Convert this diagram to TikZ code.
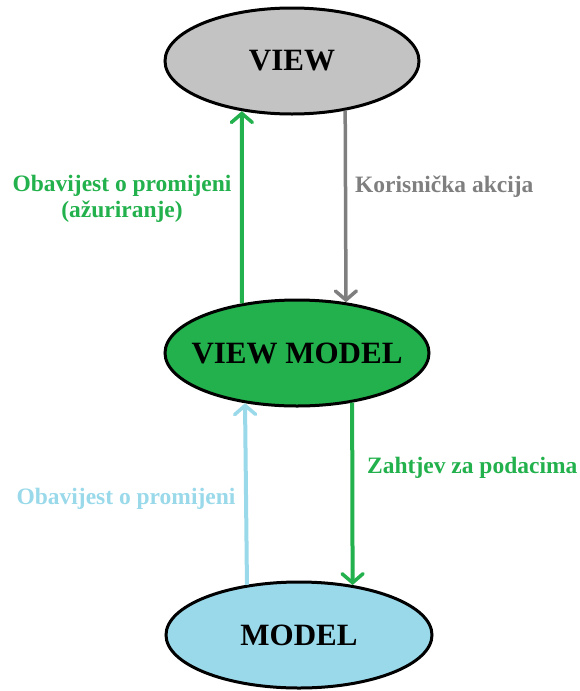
\documentclass[tikz,border=0pt]{standalone}
\usepackage{fontspec}
\setmainfont{Liberation Serif}
\usetikzlibrary{arrows.meta,shapes.geometric}
\definecolor{pgreen}{HTML}{22B14C}
\definecolor{pgray}{HTML}{7F7F7F}
\definecolor{pblue}{HTML}{99D9EA}
\definecolor{pview}{HTML}{C3C3C3}
\tikzset{
  blob/.style={ellipse, draw=black, line width=3pt, inner sep=0pt, minimum height=106pt, font=\fontsize{31}{36}\selectfont\bfseries},
  conn/.style={line width=4pt, -{Straight Barb[length=9pt,width=21pt,line width=3.5pt,line cap=round]}},
  lbl/.style={font=\fontsize{23.5}{26}\selectfont\bfseries, inner sep=0pt}
}
\begin{document}
\begin{tikzpicture}[x=1pt,y=-1pt]
\useasboundingbox (0,0) rectangle (579,691);
\node[blob, fill=pview, minimum width=254pt] (view) at (292,61) {\makebox[0pt]{VIEW}};
\node[blob, fill=pgreen, minimum width=264pt] (vm) at (297,353) {\makebox[0pt]{VIEW MODEL}};
\node[blob, fill=pblue, minimum width=266pt] (model) at (299,635) {\makebox[0pt]{MODEL}};
\draw[conn, pgreen] (vm.138.1) -- (view.225);
\draw[conn, pgray, line width=3.5pt] (view.317) -- (vm.46.5);
\draw[conn, pblue] (model.136.8) -- (vm.224.45);
\draw[conn, pgreen] (vm.318.1) -- (model.43.2);
\node[lbl, pgreen, align=center] (l1) at (122,199) {Obavijest o promijeni\\(ažuriranje)};
\node[lbl, pgray, anchor=west] (l2) at (355,187) {Korisnička akcija};
\node[lbl, pblue] (l3) at (126,499) {Obavijest o promijeni};
\node[lbl, pgreen, anchor=west] (l4) at (367,468) {Zahtjev za podacima};
\end{tikzpicture}
\end{document}
